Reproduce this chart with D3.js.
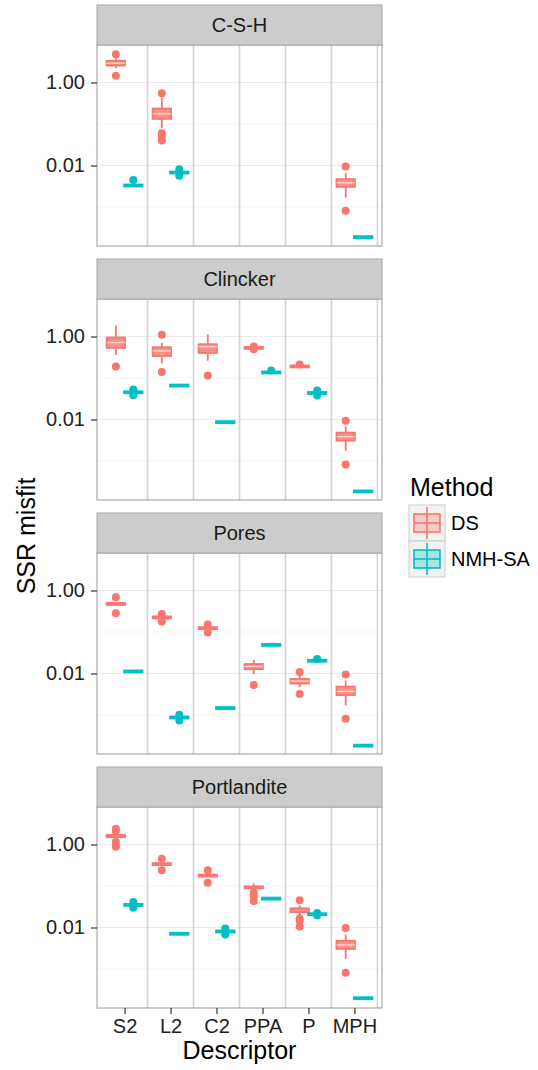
<!DOCTYPE html>
<html>
<head>
<meta charset="utf-8">
<script src="https://cdn.jsdelivr.net/npm/d3@7"></script>
<style>
  body { margin: 0; background: #fff; }
  text { font-family: "Liberation Sans", Arial, sans-serif; }
</style>
</head>
<body>
<svg id="chart" width="538" height="1070"></svg>
<script>
const facets = ['C-S-H', 'Clincker', 'Pores', 'Portlandite'];
const descriptors = ['S2', 'L2', 'C2', 'PPA', 'P', 'MPH'];
const methods = ['DS', 'NMH-SA'];
const colors = ['#F8766D', '#00BFC4'];
const yTicks = [1, 0.01];
const yMinor = [0.1, 0.001];

// [descriptor, method, whiskerLow, q1, median, q3, whiskerHigh, outliers]
const cshBoxes = [
  ['S2', 'DS', 2.21, 2.57, 2.92, 3.33, 3.86, [4.82, 1.45]],
  ['S2', 'NMH-SA', 0.0032, 0.00325, 0.0033, 0.00335, 0.0034, [0.0045]],
  ['L2', 'DS', 0.0794, 0.133, 0.176, 0.236, 0.435, [0.553, 0.06, 0.05, 0.04]],
  ['L2', 'NMH-SA', 0.0066, 0.0067, 0.00678, 0.0069, 0.007, [0.0081, 0.0057]],
  ['MPH', 'DS', 0.00169, 0.00306, 0.00382, 0.00469, 0.00653, [0.00946, 0.00081]],
  ['MPH', 'NMH-SA', 0.000184, 0.000186, 0.000188, 0.00019, 0.000192, []]
];
const clinckerBoxes = [
  ['S2', 'DS', 0.359, 0.531, 0.715, 0.946, 1.85, [0.19]],
  ['S2', 'NMH-SA', 0.0445, 0.0449, 0.0453, 0.0457, 0.046, [0.053, 0.0386]],
  ['L2', 'DS', 0.225, 0.339, 0.449, 0.551, 0.702, [1.1, 0.139]],
  ['L2', 'NMH-SA', 0.065, 0.0654, 0.0657, 0.066, 0.0665, []],
  ['C2', 'DS', 0.261, 0.401, 0.572, 0.652, 1.12, [0.115]],
  ['C2', 'NMH-SA', 0.0085, 0.00855, 0.00861, 0.00867, 0.0087, []],
  ['PPA', 'DS', 0.515, 0.522, 0.531, 0.54, 0.548, [0.57, 0.49]],
  ['PPA', 'NMH-SA', 0.133, 0.135, 0.136, 0.138, 0.14, [0.152]],
  ['P', 'DS', 0.185, 0.188, 0.19, 0.192, 0.195, [0.212]],
  ['P', 'NMH-SA', 0.0428, 0.0432, 0.0436, 0.044, 0.0444, [0.05, 0.038]],
  ['MPH', 'DS', 0.00177, 0.00309, 0.00386, 0.00483, 0.00676, [0.00929, 0.00082]],
  ['MPH', 'NMH-SA', 0.000181, 0.000183, 0.000185, 0.000187, 0.000189, []]
];
const poresBoxes = [
  ['S2', 'DS', 0.45, 0.462, 0.474, 0.487, 0.5, [0.689, 0.281]],
  ['S2', 'NMH-SA', 0.0107, 0.011, 0.0112, 0.0114, 0.0117, []],
  ['L2', 'DS', 0.215, 0.22, 0.225, 0.23, 0.235, [0.27, 0.18]],
  ['L2', 'NMH-SA', 0.00085, 0.00086, 0.00087, 0.00088, 0.00089, [0.00102, 0.00074]],
  ['C2', 'DS', 0.118, 0.121, 0.124, 0.127, 0.13, [0.152, 0.097]],
  ['C2', 'NMH-SA', 0.00144, 0.00145, 0.00147, 0.00149, 0.0015, []],
  ['PPA', 'DS', 0.00964, 0.0127, 0.0148, 0.0169, 0.0215, [0.0053]],
  ['PPA', 'NMH-SA', 0.0478, 0.0483, 0.0488, 0.0493, 0.0498, []],
  ['P', 'DS', 0.00466, 0.00572, 0.00652, 0.00742, 0.00878, [0.0108, 0.00321]],
  ['P', 'NMH-SA', 0.0199, 0.0201, 0.0203, 0.0205, 0.0207, [0.0224]],
  ['MPH', 'DS', 0.0017, 0.00303, 0.0037, 0.00483, 0.0068, [0.0095, 0.00081]],
  ['MPH', 'NMH-SA', 0.000179, 0.000181, 0.000183, 0.000185, 0.000187, []]
];
const portlanditeBoxes = [
  ['S2', 'DS', 1.4, 1.5, 1.585, 1.7, 1.9, [2.38, 2.1, 1.14, 0.95, 0.88]],
  ['S2', 'NMH-SA', 0.0342, 0.0346, 0.035, 0.0354, 0.0358, [0.041, 0.03]],
  ['L2', 'DS', 0.325, 0.331, 0.337, 0.343, 0.35, [0.453, 0.238]],
  ['L2', 'NMH-SA', 0.0069, 0.00697, 0.00705, 0.00713, 0.0072, []],
  ['C2', 'DS', 0.17, 0.174, 0.177, 0.18, 0.184, [0.238, 0.12]],
  ['C2', 'NMH-SA', 0.0078, 0.0079, 0.00801, 0.0081, 0.0082, [0.0094, 0.0068]],
  ['PPA', 'DS', 0.08, 0.088, 0.0929, 0.098, 0.116, [0.0692, 0.0575, 0.0437]],
  ['PPA', 'NMH-SA', 0.0487, 0.0492, 0.0497, 0.0502, 0.0507, []],
  ['P', 'DS', 0.02, 0.0235, 0.0265, 0.029, 0.034, [0.0453, 0.0164, 0.0145, 0.0106]],
  ['P', 'NMH-SA', 0.0203, 0.0206, 0.0209, 0.0212, 0.0215, [0.0224, 0.0196]],
  ['MPH', 'DS', 0.00175, 0.00305, 0.0038, 0.0048, 0.0067, [0.0097, 0.00081]],
  ['MPH', 'NMH-SA', 0.000194, 0.000196, 0.000198, 0.0002, 0.000202, []]
];
const facetBoxes = [cshBoxes, clinckerBoxes, poresBoxes, portlanditeBoxes];

const svg = d3.select('#chart');
svg.append('rect').attr('width', 538).attr('height', 1070).attr('fill', '#fff');

const m = { left: 97, right: 382 };
const stripH = 40;
const panelH = 201;
const step = 254;
const top0 = 5;

const x = d3.scaleLinear().domain([0.4, 6.6]).range([m.left, m.right]);
const y = d3.scaleLog().domain([1.15e-4, 8]).range([panelH, 0]);
const color = d3.scaleOrdinal().domain(methods).range(colors);
const dodge = { 'DS': -0.19, 'NMH-SA': 0.19 };
const boxW = 0.4;

facets.forEach((f, fi) => {
  const sTop = top0 + fi * step;
  const pTop = sTop + stripH;
  const g = svg.append('g').attr('transform', `translate(0,${pTop})`);

  // strip
  svg.append('rect')
    .attr('x', m.left).attr('y', sTop)
    .attr('width', m.right - m.left).attr('height', stripH)
    .attr('fill', '#cccccc').attr('stroke', '#a6a6a6');
  svg.append('text')
    .attr('x', (m.left + m.right) / 2).attr('y', sTop + stripH / 2)
    .attr('dy', '0.35em').attr('text-anchor', 'middle')
    .attr('font-size', 20).attr('fill', '#1a1a1a')
    .text(f);

  // grid
  g.selectAll('line.minor').data(yMinor).enter().append('line')
    .attr('x1', m.left).attr('x2', m.right)
    .attr('y1', d => y(d)).attr('y2', d => y(d))
    .attr('stroke', '#f5f5f5').attr('stroke-width', 1);
  g.selectAll('line.major').data(yTicks).enter().append('line')
    .attr('x1', m.left).attr('x2', m.right)
    .attr('y1', d => y(d)).attr('y2', d => y(d))
    .attr('stroke', '#ebebeb').attr('stroke-width', 1.2);
  g.selectAll('line.vsep').data(descriptors).enter().append('line')
    .attr('x1', (d, i) => x(i + 1.5)).attr('x2', (d, i) => x(i + 1.5))
    .attr('y1', 0).attr('y2', panelH)
    .attr('stroke', '#d3d3d3').attr('stroke-width', 1.6);

  const rows = facetBoxes[fi].map(r => ({
    desc: r[0], method: r[1], lo: r[2], q1: r[3], med: r[4], q3: r[5], hi: r[6], out: r[7],
    cx: x(descriptors.indexOf(r[0]) + 1 + dodge[r[1]])
  }));

  const bw = x(boxW) - x(0);
  const bx = g.selectAll('g.box').data(rows).enter().append('g');
  bx.append('line')
    .attr('x1', d => d.cx).attr('x2', d => d.cx)
    .attr('y1', d => y(d.hi)).attr('y2', d => y(d.q3))
    .attr('stroke', d => color(d.method)).attr('stroke-width', 1.8);
  bx.append('line')
    .attr('x1', d => d.cx).attr('x2', d => d.cx)
    .attr('y1', d => y(d.q1)).attr('y2', d => y(d.lo))
    .attr('stroke', d => color(d.method)).attr('stroke-width', 1.8);
  bx.append('rect')
    .attr('x', d => d.cx - bw / 2).attr('width', bw)
    .attr('y', d => Math.min(y(d.q3), y(d.med) - 1))
    .attr('height', d => Math.max(2, y(d.q1) - y(d.q3)))
    .attr('fill', d => color(d.method)).attr('fill-opacity', 0.8)
    .attr('stroke', d => color(d.method)).attr('stroke-width', 1.8);
  bx.filter(d => y(d.q1) - y(d.q3) > 4).append('line')
    .attr('x1', d => d.cx - bw / 2).attr('x2', d => d.cx + bw / 2)
    .attr('y1', d => y(d.med)).attr('y2', d => y(d.med))
    .attr('stroke', '#fff').attr('stroke-opacity', 0.6).attr('stroke-width', 1.4);
  bx.selectAll('circle').data(d => d.out.map(v => ({ v, cx: d.cx, method: d.method })))
    .enter().append('circle')
    .attr('cx', d => d.cx).attr('cy', d => y(d.v)).attr('r', 4)
    .attr('fill', d => color(d.method));

  // border
  g.append('rect')
    .attr('x', m.left).attr('y', 0)
    .attr('width', m.right - m.left).attr('height', panelH)
    .attr('fill', 'none').attr('stroke', '#999');

  // y axis
  const ya = g.append('g').attr('transform', `translate(${m.left},0)`)
    .call(d3.axisLeft(y).tickValues(yTicks).tickFormat(d3.format('.2f')).tickSize(6).tickPadding(6));
  ya.select('.domain').remove();
  ya.selectAll('line').attr('stroke', '#333').attr('stroke-width', 1.2);
  ya.selectAll('text').attr('font-size', 20).attr('fill', '#222')
    .attr('font-family', '"Liberation Sans", Arial, sans-serif');

  if (fi === facets.length - 1) {
    const xa = g.append('g').attr('transform', `translate(0,${panelH})`)
      .call(d3.axisBottom(x).tickValues(d3.range(1, 7)).tickFormat(d => descriptors[d - 1]).tickSize(6).tickPadding(5));
    xa.select('.domain').remove();
    xa.selectAll('line').attr('stroke', '#333').attr('stroke-width', 1.2);
    xa.selectAll('text').attr('font-size', 20).attr('fill', '#222')
      .attr('font-family', '"Liberation Sans", Arial, sans-serif');
  }
});

// axis titles
svg.append('text')
  .attr('x', (m.left + m.right) / 2).attr('y', 1059)
  .attr('text-anchor', 'middle').attr('font-size', 25).attr('fill', '#000')
  .text('Descriptor');
svg.append('text')
  .attr('transform', 'translate(35,536) rotate(-90)')
  .attr('text-anchor', 'middle').attr('font-size', 25).attr('fill', '#000')
  .text('SSR misfit');

// legend
const lg = svg.append('g').attr('transform', 'translate(409,477)');
lg.append('text').attr('x', 1).attr('y', 19).attr('font-size', 25).text('Method');
const key = 36;
const items = lg.selectAll('g.key').data(methods).enter().append('g')
  .attr('transform', (d, i) => `translate(0,${28 + i * key})`);
items.append('rect').attr('width', key).attr('height', key)
  .attr('fill', '#f2f2f2').attr('stroke', '#cccccc');
items.append('line')
  .attr('x1', key / 2).attr('x2', key / 2).attr('y1', 2).attr('y2', key - 2)
  .attr('stroke', d => color(d)).attr('stroke-width', 1.6);
items.append('rect').attr('x', 5).attr('y', 9).attr('width', key - 10).attr('height', key - 18)
  .attr('fill', d => color(d)).attr('fill-opacity', 0.3)
  .attr('stroke', d => color(d)).attr('stroke-width', 1.6);
items.append('line')
  .attr('x1', 5).attr('x2', key - 5).attr('y1', key / 2).attr('y2', key / 2)
  .attr('stroke', d => color(d)).attr('stroke-width', 1.6);
items.append('text')
  .attr('x', key + 6).attr('y', key / 2).attr('dy', '0.35em')
  .attr('font-size', 20).attr('fill', '#000')
  .text(d => d);
</script>
</body>
</html>
